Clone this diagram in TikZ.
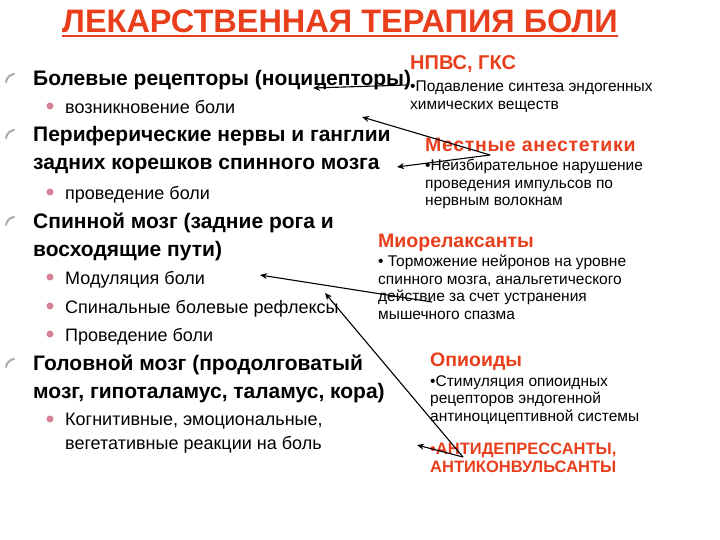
\documentclass[tikz,border=0pt]{standalone}
\usepackage{fontspec}
\setmainfont{Liberation Sans}
\usetikzlibrary{arrows.meta}
\definecolor{lekred}{RGB}{232,62,28}
\definecolor{dotpink}{RGB}{214,130,150}
\definecolor{tickgray}{RGB}{170,170,170}

\begin{document}
\begin{tikzpicture}[x=1pt,y=-1pt,>={Stealth[length=7pt,width=6pt]},
  head/.style={anchor=north west,inner sep=0pt,align=left,font=\fontsize{21}{28}\selectfont\bfseries},
  sub/.style={anchor=north west,inner sep=0pt,align=left,font=\fontsize{18}{24}\selectfont},
  drug/.style={anchor=north west,inner sep=0pt,align=left,text=lekred,font=\fontsize{19.5}{20}\selectfont\bfseries},
  note/.style={anchor=north west,inner sep=0pt,align=left,font=\fontsize{15.5}{17.5}\selectfont},
  link/.style={->,line width=1.1pt}]
	\useasboundingbox (0,0) rectangle (720,540);
	% title
	\node[anchor=base,inner sep=0pt,text=lekred,font=\fontsize{32.5}{33}\selectfont\bfseries] (ttl) at (340,33) {ЛЕКАРСТВЕННАЯ ТЕРАПИЯ БОЛИ};
	\draw[lekred,line width=2.5pt] ([yshift=-3pt]ttl.base west) -- ([yshift=-3pt]ttl.base east);
	% levels of the pain pathway
	\node[head] (rec) at (33,70) {Болевые рецепторы (ноцицепторы)};
	\node[head] (per) at (33,126) {Периферические нервы и ганглии\\задних корешков спинного мозга};
	\node[head] (spm) at (33,213) {Спинной мозг (задние рога и\\восходящие пути)};
	\node[head] (brn) at (33,355) {Головной мозг (продолговатый\\мозг, гипоталамус, таламус, кора)};
	\node[sub] (s_1) at (65,100) {возникновение боли};
	\node[sub] (s_2) at (65,186) {проведение боли};
	\node[sub] (s_3) at (65,271) {Модуляция боли};
	\node[sub] (s_4) at (65,300) {Спинальные болевые рефлексы};
	\node[sub] (s_5) at (65,328) {Проведение боли};
	\node[sub] (s_6) at (65,413) {Когнитивные, эмоциональные,\\вегетативные реакции на боль};
	\foreach \y in {78,134,221,363}
		\draw[tickgray,line width=2pt,line cap=round] (6,\y+4) to[bend left=35] (14,\y-4);
	\foreach \y in {106,192,277,306,334,419}
		\fill[dotpink] (50,\y) circle (3.5);
	% drugs
	\node[drug,font=\fontsize{20}{22}\selectfont\bfseries] (npvs) at (410,55) {НПВС, ГКС};
	\node[note] (npvs_t) at (410,81) {•Подавление синтеза эндогенных\\химических веществ};
	\node[drug,font=\fontsize{19.5}{20}\selectfont\bfseries\addfontfeature{LetterSpace=3.5}] (anest) at (425,138) {Местные анестетики};
	\node[note] (anest_t) at (425,159) {•Неизбирательное нарушение\\проведения импульсов по\\нервным волокнам};
	\node[drug] (mio) at (378,234) {Миорелаксанты};
	\node[note] (mio_t) at (378,255) {• Торможение нейронов на уровне\\спинного мозга, анальгетического\\действие за счет устранения\\мышечного спазма};
	\node[drug] (opi) at (430,353) {Опиоиды};
	\node[note] (opi_t) at (430,375) {•Стимуляция опиоидных\\рецепторов эндогенной\\антиноцицептивной системы};
	\node[note,text=lekred,font=\fontsize{16.5}{17.5}\selectfont\bfseries] (anti) at (430,443) {•АНТИДЕПРЕССАНТЫ,\\АНТИКОНВУЛЬСАНТЫ};
	% arrows
	\coordinate (j_1) at (407,85);
	\coordinate (t_1) at (313,88);
	\coordinate (j_2) at (490,155);
	\coordinate (t_2) at (362,117);
	\coordinate (t_3) at (397,167);
	\coordinate (j_3) at (432,302);
	\coordinate (t_4) at (260,275);
	\coordinate (j_4) at (463,457);
	\coordinate (t_5) at (325,293);
	\coordinate (t_6) at (417,445);
	\path[link]
		(j_1) edge (t_1)
		(j_2) edge (t_2)
		(j_2) edge (t_3)
		(j_3) edge (t_4)
		(j_4) edge (t_5)
		(j_4) edge (t_6);
\end{tikzpicture}
\end{document}
